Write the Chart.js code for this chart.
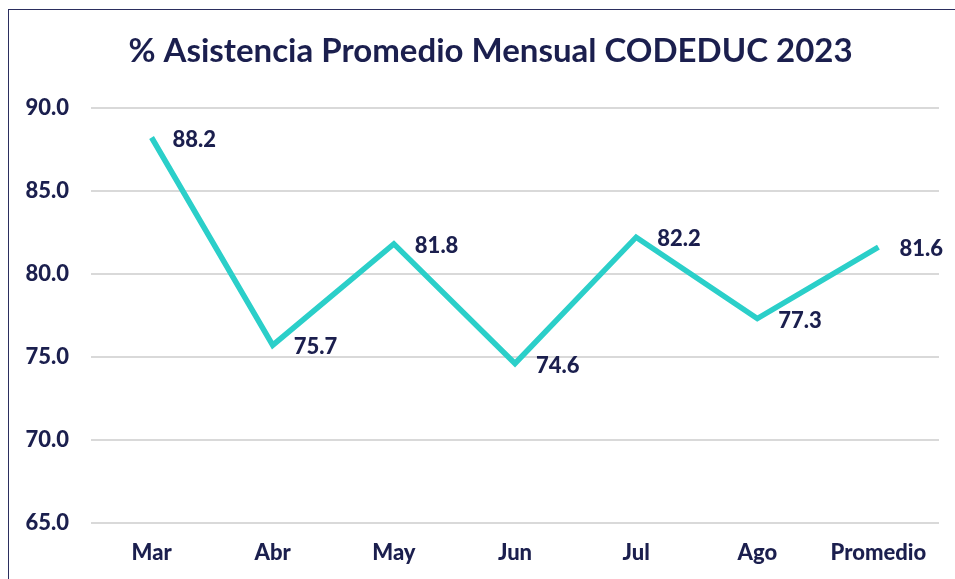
<!DOCTYPE html>
<html>
<head>
<meta charset="utf-8">
<script src="https://cdn.jsdelivr.net/npm/chart.js@4.4.0/dist/chart.umd.min.js"></script>
<style>
  body { margin: 0; background: #fff; }
  #wrap { position: relative; width: 955px; height: 579px; overflow: hidden; }
  #frame { position: absolute; left: 8px; top: 9px; width: 1000px; height: 1000px; border: 1.5px solid #2b2e5e; }
  canvas { position: absolute; left: 0; top: 0; }
</style>
</head>
<body>
<div id="wrap">
  <div id="frame"></div>
  <canvas id="asistenciaChart" width="955" height="579"></canvas>
</div>
<script>
var meses = ["Mar", "Abr", "May", "Jun", "Jul", "Ago", "Promedio"];
var asistencia = [88.2, 75.7, 81.8, 74.6, 82.2, 77.3, 81.6];
var ejeY = [65, 70, 75, 80, 85, 90];

var navy = "#1b1f4e";

// etiquetas de datos a la derecha de cada punto
var etiquetas = {
  id: "etiquetas",
  afterLayout: function (chart) {
    // el titulo va algo corrido a la derecha
    if (chart.titleBlock) {
      chart.titleBlock.left += 34;
    }
  },
  afterDatasetsDraw: function (chart) {
    var ctx = chart.ctx;
    var meta = chart.getDatasetMeta(0);
    ctx.save();
    ctx.font = "900 22px Lato";
    ctx.fillStyle = navy;
    ctx.textAlign = "left";
    ctx.textBaseline = "middle";
    meta.data.forEach(function (pt, i) {
      ctx.fillText(asistencia[i].toFixed(1), pt.x + 21, pt.y + 2);
    });
    ctx.restore();
  }
};

document.addEventListener("DOMContentLoaded", function () {
  var ctx = document.getElementById("asistenciaChart").getContext("2d");
  new Chart(ctx, {
    type: "line",
    data: {
      labels: meses,
      datasets: [
        {
          data: asistencia,
          borderColor: "#2bcfc9",
          borderWidth: 5.5,
          pointRadius: 0,
          tension: 0,
          fill: false,
        },
      ],
    },
    options: {
      responsive: false,
      animation: false,
      layout: { padding: { left: 8, right: 16, top: 0, bottom: 14 } },
      plugins: {
        legend: { display: false },
        tooltip: { enabled: false },
        title: {
          display: true,
          text: "% Asistencia Promedio Mensual CODEDUC 2023",
          color: navy,
          font: { family: "Lato", size: 33, weight: "bold" },
          padding: { top: 32, bottom: 36 },
        },
      },
      scales: {
        x: {
          offset: true,
          afterFit: function (scale) { scale.height = 42; },
          grid: { display: false, drawTicks: false },
          border: { display: false },
          ticks: {
            color: navy,
            font: { family: "Lato", size: 22, weight: 900 },
            padding: 17,
            maxRotation: 0,
          },
        },
        y: {
          min: ejeY[0],
          max: ejeY[ejeY.length - 1],
          afterFit: function (scale) { scale.width = 83; },
          afterBuildTicks: function (scale) {
            scale.ticks = ejeY.map(function (v) { return { value: v }; });
          },
          grid: { color: "#d9d9d9", lineWidth: 2, drawTicks: false },
          border: { display: false },
          ticks: {
            color: navy,
            font: { family: "Lato", size: 22, weight: 900 },
            padding: 22,
            callback: function (v) { return Number(v).toFixed(1); },
          },
        },
      },
    },
    plugins: [etiquetas],
  });
});
</script>
</body>
</html>
